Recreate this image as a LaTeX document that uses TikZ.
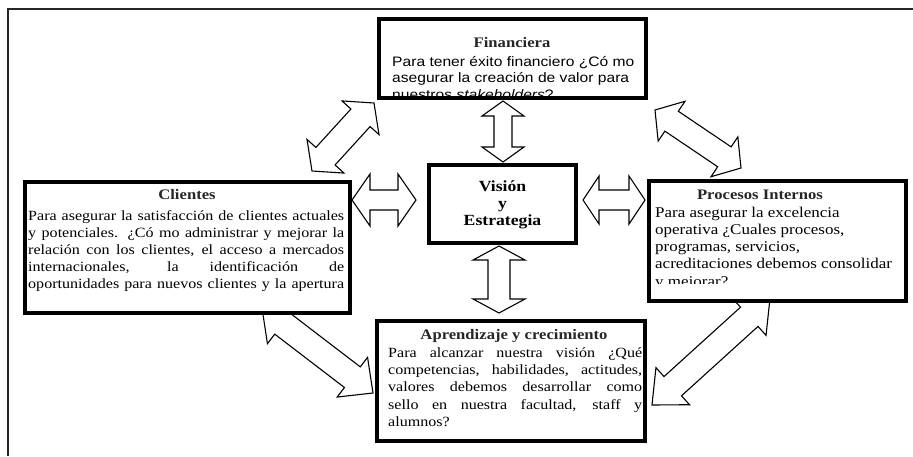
\documentclass[tikz,border=0pt]{standalone}
\usepackage{fontspec}
\setmainfont[FakeStretch=1.14]{Liberation Serif}
\newfontfamily\sansbody[FakeStretch=1.14]{Liberation Sans}
\usetikzlibrary{calc}

% Double-headed block arrow from #1 to #2:
% #3 head length, #4 head half-width, #5 shaft half-width
\newcommand\dblarrow[5]{%
  \coordinate (ha) at ($(#1)!#3!(#2)$);
  \coordinate (hb) at ($(#2)!#3!(#1)$);
  \draw[blockarrow] (#1) -- ($(ha)!#4!90:(#2)$) -- ($(ha)!#5!90:(#2)$)
    -- ($(hb)!#5!-90:(#1)$) -- ($(hb)!#4!-90:(#1)$) -- (#2)
    -- ($(hb)!#4!90:(#1)$) -- ($(hb)!#5!90:(#1)$)
    -- ($(ha)!#5!-90:(#2)$) -- ($(ha)!#4!-90:(#2)$) -- cycle;
}

\tikzset{
  frame/.style={line width=1.1pt, draw=black!85},
  blockarrow/.style={line width=1.1pt, draw=black, fill=white, line join=miter},
  panel/.style={draw=black, line width=3.8pt, fill=white, inner sep=0pt},
  ttl/.style={inner sep=0pt, anchor=base, text=black!85,
    font=\bfseries\fontsize{14.6}{17}\selectfont},
  body/.style={inner sep=0pt, anchor=base west, font=\fontsize{14.1}{17}\selectfont},
  pbody/.style={inner sep=0pt, anchor=base west, font=\fontsize{14.9}{17}\selectfont},
  sbody/.style={inner sep=0pt, anchor=base west, font=\sansbody\fontsize{13.7}{17}\selectfont},
  vis/.style={inner sep=0pt, anchor=base, font=\bfseries\fontsize{15.5}{17}\selectfont},
}

\begin{document}
\begin{tikzpicture}[x=1pt,y=-1pt]
\useasboundingbox (0,0) rectangle (913,456);
\fill[white] (0,0) rectangle (913,456);

% page frame (left and top edges)
\draw[frame] (8,456) -- (8,9) -- (913,9);

% arrow end points
\coordinate (finS)  at (503,101);
\coordinate (visN)  at (503,162);
\coordinate (cliE)  at (352,200);
\coordinate (visW)  at (416,200);
\coordinate (visE)  at (583,200);
\coordinate (proW)  at (645,200);
\coordinate (visS)  at (499,246);
\coordinate (aprN)  at (499,313);
\coordinate (finSW) at (374,103);
\coordinate (cliNE) at (312,171);
\coordinate (finSE) at (655,110);
\coordinate (proNW) at (741,168);
\coordinate (cliS)  at (262,308);
\coordinate (aprW)  at (373,393);
\coordinate (proS)  at (770,298);
\coordinate (aprE)  at (652,405);

% block arrows (drawn beneath the boxes)
\dblarrow{finS}{visN}{15pt}{21pt}{9pt}
\dblarrow{cliE}{visW}{18pt}{26pt}{10pt}
\dblarrow{visE}{proW}{16pt}{24pt}{10pt}
\dblarrow{visS}{aprN}{14pt}{26pt}{11pt}
\dblarrow{finSW}{cliNE}{20pt}{25pt}{13pt}
\dblarrow{finSE}{proNW}{20pt}{24pt}{12pt}
\dblarrow{cliS}{aprW}{26pt}{25pt}{13pt}
\dblarrow{proS}{aprE}{28pt}{25pt}{13pt}

% boxes
\node[panel, minimum width=267pt, minimum height=79pt]  (fin) at (512.5,58.5) {};
\node[panel, minimum width=325pt, minimum height=131pt] (cli) at (187.5,247.5) {};
\node[panel, minimum width=147pt, minimum height=78pt]  (vsn) at (502.5,204) {};
\node[panel, minimum width=257pt, minimum height=120pt] (pro) at (777.5,241) {};
\node[panel, minimum width=268pt, minimum height=120pt] (apr) at (511,381) {};

% Financiera
\begin{scope}
  \clip (381,21) rectangle (644,96);
  \node[ttl]   (finT) at (512,47) {Financiera};
  \node[sbody] (fin1) at (392,66) {Para tener éxito financiero ¿Có mo};
  \node[sbody] (fin2) at (392,82.5) {asegurar la creación de valor para};
  \node[sbody] (fin3) at (392,99) {nuestros \textit{stakeholders}?};
\end{scope}

% Clientes
\begin{scope}
  \clip (27,184) rectangle (348,300);
  \node[ttl]  (cliT) at (187,199) {Clientes};
  \node[body] (cli1) at (28,220) {\makebox[316pt][s]{Para asegurar la satisfacción de clientes actuales}};
  \node[body] (cli2) at (28,237) {\makebox[316pt][s]{y potenciales. ¿Có mo administrar y mejorar la}};
  \node[body] (cli3) at (28,254) {\makebox[316pt][s]{relación con los clientes, el acceso a mercados}};
  \node[body] (cli4) at (28,271) {\makebox[316pt][s]{internacionales, la identificación de}};
  \node[body] (cli5) at (28,288) {\makebox[316pt][s]{oportunidades para nuevos clientes y la apertura}};
\end{scope}

% Vision y Estrategia
\node[vis] (vs1) at (502.5,191) {Visión};
\node[vis] (vs2) at (502.5,208) {y};
\node[vis] (vs3) at (502.5,225.5) {Estrategia};

% Procesos Internos
\begin{scope}
  \clip (651,183) rectangle (904,283);
  \node[ttl]   (proT) at (760,199) {Procesos Internos};
  \node[pbody] (pro1) at (655,217) {Para asegurar la excelencia};
  \node[pbody] (pro2) at (655,234) {operativa ¿Cuales procesos,};
  \node[pbody] (pro3) at (655,251) {programas, servicios,};
  \node[pbody] (pro4) at (655,268) {acreditaciones debemos consolidar};
  \node[pbody] (pro5) at (655,286) {y mejorar?};
\end{scope}

% Aprendizaje y crecimiento
\begin{scope}
  \clip (379,323) rectangle (643,439);
  \node[ttl]  (aprT) at (514,339) {Aprendizaje y crecimiento};
  \node[body] (apr1) at (388,357) {\makebox[254pt][s]{Para alcanzar nuestra visión ¿Qué}};
  \node[body] (apr2) at (388,374) {\makebox[254pt][s]{competencias, habilidades, actitudes,}};
  \node[body] (apr3) at (388,391) {\makebox[254pt][s]{valores debemos desarrollar como}};
  \node[body] (apr4) at (388,409) {\makebox[254pt][s]{sello en nuestra facultad, staff y}};
  \node[body] (apr5) at (388,426) {alumnos?};
\end{scope}
\end{tikzpicture}
\end{document}
